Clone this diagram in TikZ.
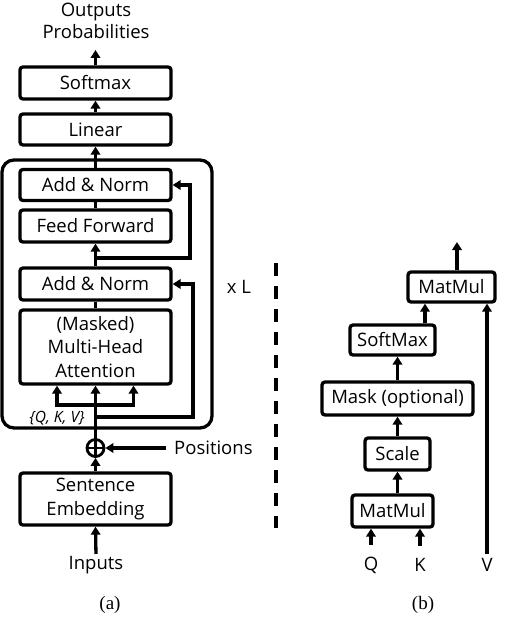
\documentclass[tikz,border=0pt]{standalone}
\usepackage{fontspec}
\setmainfont{Open Sans}
\newfontfamily\capfont{Liberation Serif}
\usetikzlibrary{arrows.meta}
\begin{document}
\begin{tikzpicture}[x=1pt,y=-1pt,
  txt/.style={font=\fontsize{18.5}{23.5}\selectfont},
  box/.style={draw, line width=3.3pt, rounded corners=3pt, inner sep=0pt, align=center, txt},
  arr/.style={line width=3.3pt, -{Triangle[length=8pt,width=9.5pt]}},
  ln/.style={line width=3.3pt},
  lab/.style={txt, inner sep=0pt, align=center}]
\useasboundingbox (0,0) rectangle (504,620);

% ---------- (a) ----------
\node[lab, font=\fontsize{18.5}{21.5}\selectfont] (out) at (96,21) {Outputs\\Probabilities};
\coordinate (outtip) at (95.5,50);
\node[box, minimum width=151pt, minimum height=32pt] (softmax) at (95.5,83) {Softmax};
\node[box, minimum width=151pt, minimum height=31pt] (linear) at (95.5,129.5) {Linear};
\draw[line width=3.3pt, rounded corners=12pt] (2,160) rectangle (212,428);
\node[box, minimum width=151pt, minimum height=31pt] (an2) at (95.5,185) {Add \& Norm};
\node[box, minimum width=151pt, minimum height=32pt] (ff) at (95.5,226) {Feed Forward};
\node[box, minimum width=151pt, minimum height=32pt] (an1) at (95.5,284) {Add \& Norm};
\node[box, minimum width=151pt, minimum height=74pt] (mha) at (95.5,347) {(Masked)\\Multi-Head\\Attention};
\node[draw, circle, line width=2.8pt, minimum size=17pt, inner sep=0pt] (plus) at (95.5,448) {};
\draw[line width=2.8pt] (plus.north) -- (plus.south) (plus.west) -- (plus.east);
\node[box, minimum width=151pt, minimum height=52pt] (emb) at (95.5,499) {Sentence\\Embedding};
\node[lab] (inputs) at (96,565) {Inputs};
\node[lab, anchor=west] (pos) at (174,448) {Positions};
\coordinate (posstart) at (166,448);
\node[lab, font=\itshape\fontsize{15.5}{17}\selectfont] (qkv) at (57,418) {\{Q, K, V\}};
\node[lab] (xl) at (239,287) {x L};

\draw[arr] (softmax.north) -- (outtip);
\draw[arr] (linear.north) -- (softmax.south);
\draw[arr] (an2.north) -- (linear.south);
\draw[ln] (ff.north) -- (an2.south);
\draw[arr] (an1.north) -- (ff.south);
\draw[ln] (mha.north) -- (an1.south);
\coordinate (r2) at (95.5,258);
\draw[arr] (r2) -| (190,185) -- (an2.east);
\coordinate (r1) at (95.5,417);
\draw[arr] (r1) -| (193,284) -- (an1.east);
\draw[arr] (plus.north) -- (mha.south);
\coordinate (bl) at (57,405);
\coordinate (brr) at (133.5,405);
\draw[ln] ([xshift=-1.65pt]bl) -- ([xshift=1.65pt]brr);
\draw[arr] (bl) -- (mha.south -| bl);
\draw[arr] (brr) -- (mha.south -| brr);
\draw[arr] (emb.north) -- (plus.south);
\draw[arr] (posstart) -- (plus.east);
\draw[arr, shorten <=2pt] (inputs.north) -- (emb.south);

\draw[line width=3.5pt, dash pattern=on 13pt off 10pt] (276,263) -- (276,528);

% ---------- (b) ----------
\node[box, minimum width=87pt, minimum height=30pt] (mm2) at (451.5,287) {MatMul};
\node[box, minimum width=85pt, minimum height=30pt] (sm2) at (392.5,340) {SoftMax};
\node[box, minimum width=151pt, minimum height=33pt] (mask) at (397.5,398.5) {Mask (optional)};
\node[box, minimum width=65pt, minimum height=32pt] (scale) at (397.5,454) {Scale};
\node[box, minimum width=81pt, minimum height=32pt] (mm1) at (392.5,511) {MatMul};
\node[lab] (q) at (371,565) {Q};
\node[lab] (k) at (420,565) {K};
\node[lab] (v) at (487,565) {V};
\coordinate (otip) at (457,242);
\coordinate (xs) at (425,0);

\draw[arr] (mm2.north -| otip) -- (otip);
\draw[arr] (sm2.north -| xs) -- (mm2.south -| xs);
\draw[arr] (mask.north) -- (mask.north |- sm2.south);
\draw[arr] (scale.north) -- (mask.south);
\draw[arr] (mm1.north -| scale) -- (scale.south);
\draw[arr, shorten <=12pt] (q.north) -- (mm1.south -| q);
\draw[arr, shorten <=12pt] (k.north) -- (mm1.south -| k);
\draw[arr, shorten <=4pt] (v.north) -- (mm2.south -| v);

\node[lab, font=\capfont\fontsize{19}{21}\selectfont] (capa) at (110,605) {(a)};
\node[lab, font=\capfont\fontsize{19}{21}\selectfont] (capb) at (423,605) {(b)};
\end{tikzpicture}
\end{document}
